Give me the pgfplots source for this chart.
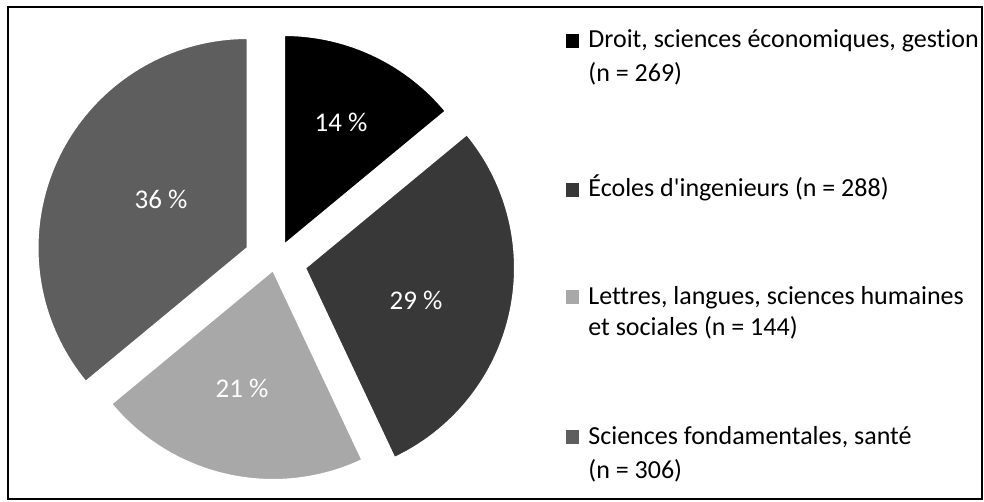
\documentclass[border=0pt]{standalone}
\usepackage{pgfplots}
\pgfplotsset{compat=1.18}
\usepackage{fontspec}
\setmainfont{Carlito}[Ligatures={TeXOff,CommonOff}]
\definecolor{cBlack}{gray}{0.0}
\definecolor{cDark}{gray}{0.22}
\definecolor{cLight}{gray}{0.66}
\definecolor{cMid}{gray}{0.37}
% shares in percent: 14, 29, 21, 36 (clockwise from 12 o'clock)
% slice angles: 90 -> 39.6 -> -64.8 -> -140.4 -> -270
\begin{document}
\begin{tikzpicture}
\begin{axis}[
  width=492pt, height=251pt, scale only axis,
  xmin=0, xmax=984, ymin=0, ymax=502, y dir=reverse,
  hide axis, clip=false,
]
\path (axis cs:0,0) (axis cs:984,502);
% 36 % slice
\addplot[fill=cMid, draw=white, line width=1pt, domain=90:219.6, samples=80, variable=\t]
  ({247.5+210*cos(\t)}, {248-210*sin(\t)}) -- (axis cs:247.5,248) -- cycle;
% 14 % slice
\addplot[fill=cBlack, draw=white, line width=1pt, domain=39.6:90, samples=40, variable=\t]
  ({284+210*cos(\t)}, {245-210*sin(\t)}) -- (axis cs:284,245) -- cycle;
% 29 % slice
\addplot[fill=cDark, draw=white, line width=1pt, domain=-64.8:39.6, samples=70, variable=\t]
  ({305+210*cos(\t)}, {268-210*sin(\t)}) -- (axis cs:305,268) -- cycle;
% 21 % slice
\addplot[fill=cLight, draw=white, line width=1pt, domain=-140.4:-64.8, samples=50, variable=\t]
  ({273+210*cos(\t)}, {270-210*sin(\t)}) -- (axis cs:273,270) -- cycle;
% slice labels
\begin{scope}[every node/.style={text=white, font=\fontsize{13.5}{16}\selectfont}]
\node at (axis cs:341,122) {14 \%};
\node at (axis cs:161,199) {36 \%};
\node at (axis cs:416,300) {29 \%};
\node at (axis cs:242,388) {21 \%};
\end{scope}
% legend
\begin{scope}[every node/.style={anchor=base west, inner sep=0pt, font=\fontsize{13}{16}\selectfont}]
\fill[cBlack] (axis cs:566,34) rectangle (axis cs:579,48);
\node at (axis cs:588,48) {Droit, sciences économiques, gestion};
\node at (axis cs:588,82) {(n = 269)};
\fill[cDark] (axis cs:566,183) rectangle (axis cs:579,197);
\node at (axis cs:588,197) {Écoles d'ingenieurs (n = 288)};
\fill[cLight] (axis cs:566,290) rectangle (axis cs:579,304);
\node at (axis cs:588,304) {Lettres, langues, sciences humaines};
\node at (axis cs:588,335) {et sociales (n = 144)};
\fill[cMid] (axis cs:566,430) rectangle (axis cs:579,444);
\node at (axis cs:588,444) {Sciences fondamentales, santé};
\node at (axis cs:588,478) {(n = 306)};
\end{scope}
\draw[line width=1pt] (axis cs:8,7) rectangle (axis cs:982,499);
\end{axis}
\end{tikzpicture}
\end{document}
